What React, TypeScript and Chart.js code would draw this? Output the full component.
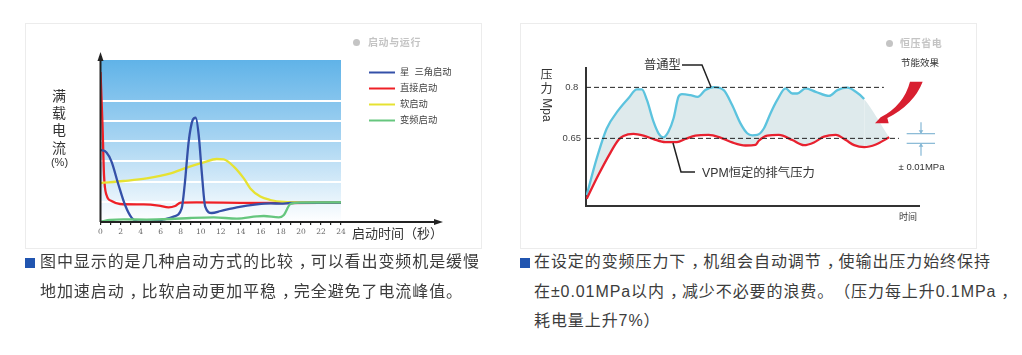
import React, { useEffect, useRef } from "react";
import { Chart, registerables } from "chart.js";

Chart.register(...registerables);

const CJK = '"Liberation Sans", "Noto Sans CJK SC", sans-serif';

// Left chart: current against start time
const starDeltaLabel = "星  三角启动";
const starDeltaTime = [0, 0.6, 1.1, 1.8, 2.45, 3.1, 3.8, 5, 6.3, 7.3, 8.1, 8.4, 8.8, 9.2, 9.5, 9.8, 10.1, 10.45, 11.1, 12, 13.6, 15.6, 17, 18, 18.95, 24];
const starDeltaCurrent = [360, 348, 302, 185, 85, 22, 2, 2, 13, 27, 68, 185, 402, 510, 522, 435, 252, 77, 45, 55, 73, 88, 93, 92, 95, 97];
const directLabel = "直接启动";
const directTime = [0, 0.2, 0.35, 0.6, 1.1, 1.95, 4.3, 5.8, 6.8, 7.45, 8, 9.6, 14, 18, 24];
const directCurrent = [750, 485, 235, 135, 105, 90, 88, 82, 73, 80, 97, 98, 96, 95, 97];
const softLabel = "软启动";
const softTime = [0, 2.3, 4.6, 7, 8.6, 10.3, 11.6, 12.3, 13.3, 14.3, 14.95, 15.95, 16.95, 18.3, 19.95, 24];
const softCurrent = [195, 205, 218, 243, 272, 298, 315, 313, 277, 218, 168, 127, 110, 100, 98, 98];
const vfdLabel = "变频启动";
const vfdTime = [0, 0.95, 2.3, 4.6, 7, 9, 11.3, 13.6, 15.6, 16.3, 17.8, 18.3, 18.95, 19.95, 24];
const vfdCurrent = [2, 10, 13, 12, 15, 20, 23, 17, 28, 30, 23, 35, 90, 97, 98];

// Right chart: pressure against time (arbitrary time units)
const normalTime = [0.7, 10.7, 20.7, 32.3, 42.3, 50.7, 55.7, 60.7, 67.3, 72.3, 77.3, 82.3, 87.3, 92.3, 95.7, 104, 111.3, 119, 127.3, 137.3, 145.7, 154, 160.7, 165.7, 170.7, 177.3, 184, 190.7, 199, 205.7, 210.7, 219, 229, 242.3, 250.7, 260.7, 269, 277.3, 302.3];
const normalPressure = [0.483, 0.591, 0.679, 0.733, 0.768, 0.794, 0.794, 0.763, 0.699, 0.665, 0.653, 0.67, 0.709, 0.773, 0.78, 0.777, 0.772, 0.792, 0.801, 0.792, 0.748, 0.694, 0.665, 0.659, 0.66, 0.679, 0.724, 0.763, 0.797, 0.782, 0.782, 0.797, 0.787, 0.775, 0.792, 0.799, 0.787, 0.766, 0.653];
const vpmTime = [0.7, 12.3, 24, 32.3, 37.3, 47.3, 57.3, 67.3, 79, 90.7, 99, 109, 122.3, 134, 145.7, 159, 169, 172.3, 180.7, 192.3, 205.7, 217.3, 227.3, 237.3, 249, 259, 267.3, 277.3, 289, 302.3];
const vpmPressure = [0.472, 0.542, 0.606, 0.645, 0.657, 0.663, 0.658, 0.648, 0.639, 0.639, 0.648, 0.658, 0.66, 0.652, 0.638, 0.629, 0.631, 0.643, 0.658, 0.66, 0.645, 0.63, 0.638, 0.655, 0.66, 0.645, 0.63, 0.624, 0.632, 0.653];
const upperLimitTime = [0, 297];
const upperLimit = [0.8, 0.8];
const lowerLimitTime = [0, 312];
const lowerLimit = [0.65, 0.65];
const pressureTicks = [0.65, 0.8];

const zip = (xs: number[], ys: number[]) => xs.map((x, i) => ({ x, y: ys[i] }));

const currentBackdrop = {
  id: "currentBackdrop",
  beforeDraw(chart: any) {
    const { ctx, chartArea: a } = chart;
    const g = ctx.createLinearGradient(0, a.top, 0, a.bottom);
    g.addColorStop(0, "#60b3e8");
    g.addColorStop(0.5, "#a9d5f2");
    g.addColorStop(1, "#ffffff");
    ctx.save();
    ctx.fillStyle = g;
    ctx.fillRect(a.left, a.top, a.right - a.left, a.bottom - a.top);
    ctx.restore();
  },
};

const currentAxesAndLegend = {
  id: "currentAxesAndLegend",
  afterDraw(chart: any) {
    const { ctx, chartArea: a } = chart;
    ctx.save();
    ctx.strokeStyle = "#222";
    ctx.fillStyle = "#222";
    ctx.lineWidth = 2;
    ctx.beginPath();
    ctx.moveTo(a.left, a.bottom);
    ctx.lineTo(a.left, a.top - 4);
    ctx.moveTo(a.left, a.bottom);
    ctx.lineTo(a.right + 96, a.bottom);
    ctx.stroke();
    ctx.beginPath();
    ctx.moveTo(a.left, a.top - 8);
    ctx.lineTo(a.left - 3, a.top + 1);
    ctx.lineTo(a.left + 3, a.top + 1);
    ctx.fill();
    ctx.beginPath();
    ctx.moveTo(a.right + 102, a.bottom);
    ctx.lineTo(a.right + 93, a.bottom - 3);
    ctx.lineTo(a.right + 93, a.bottom + 3);
    ctx.fill();
    ctx.textBaseline = "middle";
    ctx.font = `9.3px ${CJK}`;
    chart.data.datasets.forEach((d: any, i: number) => {
      const y = a.top + 12.5 + i * 16;
      ctx.strokeStyle = d.borderColor;
      ctx.lineWidth = 2;
      ctx.beginPath();
      ctx.moveTo(a.right + 28, y);
      ctx.lineTo(a.right + 54, y);
      ctx.stroke();
      ctx.fillStyle = "#444";
      ctx.fillText(d.label, a.right + 59, y);
    });
    ctx.restore();
  },
};

const pressureNotes = {
  id: "pressureNotes",
  afterDraw(chart: any) {
    const { ctx } = chart;
    const X = (zx: number) => 230 + zx / 3;
    const Y = (zy: number) => 2 + zy / 3;
    const line = (pts: number[][]) => {
      ctx.beginPath();
      pts.forEach(([x, y], i) => (i ? ctx.lineTo(x, y) : ctx.moveTo(x, y)));
      ctx.stroke();
    };
    ctx.save();
    ctx.strokeStyle = "#222";
    ctx.lineWidth = 1.5;
    line([[162, 42], [182, 42], [191, 64]]);
    line([[153, 120], [161, 149], [175, 149]]);

    // saved-energy arrow
    ctx.fillStyle = "#d81f30";
    ctx.beginPath();
    ctx.moveTo(X(480), Y(170));
    ctx.lineTo(X(518), Y(170));
    ctx.quadraticCurveTo(X(492), Y(238), X(412), Y(279));
    ctx.lineTo(X(416), Y(295));
    ctx.lineTo(X(375), Y(295));
    ctx.lineTo(X(392), Y(277));
    ctx.quadraticCurveTo(X(462), Y(240), X(480), Y(170));
    ctx.fill();

    // +/- band symbol
    ctx.strokeStyle = "#85b8d5";
    ctx.fillStyle = "#85b8d5";
    ctx.lineWidth = 1.2;
    line([[X(470), Y(326)], [X(555), Y(326)]]);
    line([[X(470), Y(355)], [X(555), Y(355)]]);
    line([[X(513), Y(292)], [X(513), Y(324)]]);
    line([[X(513), Y(357)], [X(513), Y(392)]]);
    ctx.beginPath();
    ctx.moveTo(X(513), Y(326));
    ctx.lineTo(X(506), Y(316));
    ctx.lineTo(X(520), Y(316));
    ctx.moveTo(X(513), Y(355));
    ctx.lineTo(X(506), Y(365));
    ctx.lineTo(X(520), Y(365));
    ctx.fill();
    ctx.restore();
  },
};

function Label({ x, y, size, color = "#333", bold, spacing, center, vertical, children }: any) {
  return (
    <div
      style={{
        position: "absolute",
        left: x,
        top: y,
        fontSize: size,
        color,
        fontWeight: bold ? 700 : 400,
        letterSpacing: spacing,
        lineHeight: 1,
        whiteSpace: "nowrap",
        fontFamily: CJK,
        textSpacingTrim: "space-all",
        transform: `translate(${center ? "-50%" : "0"}, -50%)${vertical ? " rotate(90deg)" : ""}`,
      } as any}
    >
      {children}
    </div>
  );
}

function Para({ x, y, text }: { x: number; y: number; text: string }) {
  const parts = text.split("，");
  return (
    <div
      style={{
        position: "absolute",
        left: x,
        top: y,
        fontSize: 16,
        letterSpacing: 0.92,
        lineHeight: 1,
        whiteSpace: "nowrap",
        color: "#3c3c3c",
        fontFamily: '"Liberation Sans", "Noto Sans CJK SC", sans-serif',
        textSpacingTrim: "space-all",
        transform: "translateY(-50%)",
      } as any}
    >
      {parts.map((p, i) => (
        <React.Fragment key={i}>
          {p}
          {i < parts.length - 1 && <span style={{ position: "relative", left: 5 }}>，</span>}
        </React.Fragment>
      ))}
    </div>
  );
}

export default function App() {
  const leftRef = useRef<HTMLCanvasElement>(null);
  const rightRef = useRef<HTMLCanvasElement>(null);

  useEffect(() => {
    document.body.style.margin = "0";
    const lineBase = { pointRadius: 0, borderWidth: 2.3, cubicInterpolationMode: "monotone" as const, fill: false };
    const left = new Chart(leftRef.current!, {
      type: "line",
      data: {
        datasets: [
          { ...lineBase, label: starDeltaLabel, data: zip(starDeltaTime, starDeltaCurrent), borderColor: "#3450a8", order: 1 },
          { ...lineBase, label: directLabel, data: zip(directTime, directCurrent), borderColor: "#ee2026", order: 3 },
          { ...lineBase, label: softLabel, data: zip(softTime, softCurrent), borderColor: "#e6e232", order: 2 },
          { ...lineBase, label: vfdLabel, data: zip(vfdTime, vfdCurrent), borderColor: "#66c67e", order: 0 },
        ],
      },
      options: {
        responsive: false,
        animation: false,
        layout: { padding: { left: 40, top: 37, right: 141, bottom: 0 } },
        plugins: { legend: { display: false }, tooltip: { enabled: false } },
        scales: {
          x: {
            type: "linear",
            min: 0,
            max: 24,
            afterFit: (s: any) => { s.height = 28; },
            border: { display: false },
            grid: { drawOnChartArea: false, drawTicks: true, tickLength: 3, color: "#222", lineWidth: 1.2 },
            ticks: {
              stepSize: 1,
              autoSkip: false,
              maxRotation: 0,
              padding: 3,
              includeBounds: false,
              color: "#666",
              font: { family: '"DejaVu Serif"', size: 7.5 },
              callback: (v: any) => (v % 2 === 0 ? String(v) : ""),
            },
          },
          y: {
            min: 0,
            max: 810,
            afterFit: (s: any) => { s.width = 36.5; },
            border: { display: false },
            grid: {
              drawTicks: false,
              lineWidth: 2,
              color: (c: any) => (c.tick && c.tick.value >= 100 && c.tick.value <= 700 ? "#ffffff" : "rgba(0,0,0,0)"),
            },
            ticks: {
              stepSize: 100,
              padding: 5,
              autoSkip: false,
              includeBounds: false,
              color: "#666",
              font: { family: '"DejaVu Serif"', size: 7.5 },
              callback: (v: any) => (v > 0 && v % 200 === 0 ? String(v) : ""),
            },
          },
        },
      },
      plugins: [currentBackdrop, currentAxesAndLegend],
    } as any);

    const last = normalTime.length - 2;
    const right = new Chart(rightRef.current!, {
      type: "line",
      data: {
        datasets: [
          {
            ...lineBase,
            label: "普通型",
            data: zip(normalTime, normalPressure),
            borderColor: "#5cc3de",
            backgroundColor: "#deeaec",
            fill: "+1",
            order: 2,
            segment: { borderColor: (c: any) => (c.p0DataIndex >= last ? "rgba(0,0,0,0)" : undefined) },
          },
          {
            ...lineBase,
            label: "VPM恒定的排气压力",
            data: zip(vpmTime, vpmPressure),
            borderColor: "#e8212f",
            order: 1,
          },
          { label: "0.8", data: zip(upperLimitTime, upperLimit), borderColor: "#222", borderWidth: 1, borderDash: [5, 3], pointRadius: 0, order: 0 },
          { label: "0.65", data: zip(lowerLimitTime, lowerLimit), borderColor: "#222", borderWidth: 1, borderDash: [5, 3], pointRadius: 0, order: 0 },
        ],
      },
      options: {
        responsive: false,
        animation: false,
        layout: { padding: { left: 30, top: 45, right: 59, bottom: 0 } },
        plugins: { legend: { display: false }, tooltip: { enabled: false } },
        scales: {
          x: {
            type: "linear",
            min: 0,
            max: 332,
            afterFit: (s: any) => { s.height = 44; },
            border: { color: "#333", width: 2 },
            grid: { display: false },
            ticks: { display: false },
          },
          y: {
            min: 0.451,
            max: 0.857,
            afterFit: (s: any) => { s.width = 36; },
            afterBuildTicks: (s: any) => { s.ticks = pressureTicks.map((value) => ({ value })); },
            border: { color: "#333", width: 2 },
            grid: { drawOnChartArea: false, drawTicks: false, tickLength: 0 },
            ticks: {
              padding: 5,
              crossAlign: "center",
              color: "#444",
              font: { family: '"Liberation Sans"', size: 9.5 },
              callback: (v: any) => String(v),
            },
          },
        },
      },
      plugins: [pressureNotes],
    } as any);

    return () => {
      left.destroy();
      right.destroy();
    };
  }, []);

  const frame = (x: number): React.CSSProperties => ({
    position: "absolute",
    left: x,
    top: 23,
    width: 457,
    height: 226,
    border: "1px solid #ececec",
    boxSizing: "border-box",
  });
  const square = (x: number): React.CSSProperties => ({
    position: "absolute",
    left: x,
    top: 258,
    width: 10,
    height: 10,
    background: "#2155b0",
  });

  return (
    <div style={{ position: "fixed", left: 0, top: 0, width: 1022, height: 355, overflow: "hidden", background: "#fff" }}>
      <div style={frame(24.5)} />
      <div style={frame(520)} />
      <canvas ref={leftRef} width={458} height={227} style={{ position: "absolute", left: 24, top: 23, display: "block" }} />
      <canvas ref={rightRef} width={458} height={227} style={{ position: "absolute", left: 520, top: 23, display: "block" }} />

      {["满", "载", "电", "流"].map((c, i) => (
        <Label key={c} x={59} y={96 + i * 17.2} size={14} center>{c}</Label>
      ))}
      <Label x={59.5} y={161.5} size={11} center>(%)</Label>
      <Label x={352} y={233} size={13}>启动时间（秒）</Label>
      <div style={{ position: "absolute", left: 353, top: 39, width: 7, height: 7, borderRadius: "50%", background: "#c4c4c4" }} />
      <Label x={368} y={43} size={10} color="#c4c4c4" bold spacing={0.6}>启动与运行</Label>

      <Label x={546.5} y={75} size={12} center>压</Label>
      <Label x={546.5} y={89} size={12} center>力</Label>
      <Label x={546.5} y={110} size={12} center vertical>Mpa</Label>
      <Label x={644} y={65} size={12.3}>普通型</Label>
      <Label x={702} y={173} size={12.3}>VPM恒定的排气压力</Label>
      <div style={{ position: "absolute", left: 885.5, top: 40, width: 7, height: 7, borderRadius: "50%", background: "#c4c4c4" }} />
      <Label x={900} y={43.5} size={10} color="#c4c4c4" bold spacing={0.6}>恒压省电</Label>
      <Label x={901} y={63} size={9.5}>节能效果</Label>
      <Label x={921.5} y={167} size={9.5} center>± 0.01MPa</Label>
      <Label x={908} y={217} size={9} center>时间</Label>

      <div style={square(25)} />
      <Para x={40} y={262} text="图中显示的是几种启动方式的比较，可以看出变频机是缓慢" />
      <Para x={40} y={291.5} text="地加速启动，比软启动更加平稳，完全避免了电流峰值。" />
      <div style={square(520)} />
      <Para x={534} y={262} text="在设定的变频压力下，机组会自动调节，使输出压力始终保持" />
      <Para x={534} y={291.5} text="在±0.01MPa以内，减少不必要的浪费。（压力每上升0.1MPa，" />
      <Para x={534} y={321} text="耗电量上升7%）" />
    </div>
  );
}
